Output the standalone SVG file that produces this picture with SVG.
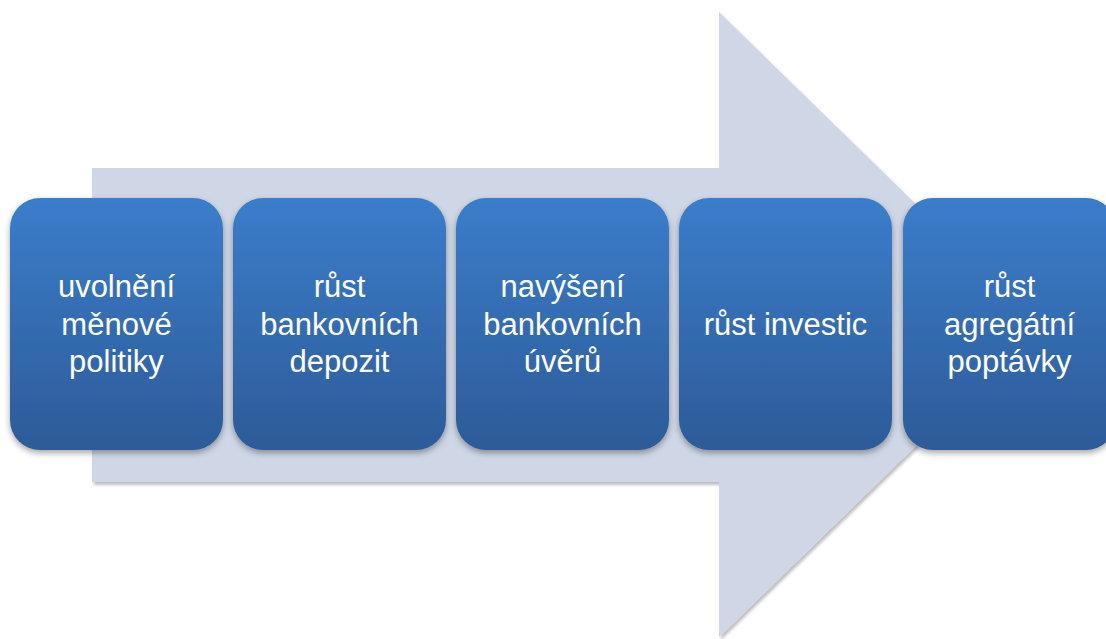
<svg xmlns="http://www.w3.org/2000/svg" width="1106" height="639" viewBox="0 0 1106 639">
  <defs>
    <linearGradient id="boxFill" x1="0" y1="0" x2="0" y2="1">
      <stop offset="0" stop-color="#3B7DCB"/>
      <stop offset="1" stop-color="#2D5B98"/>
    </linearGradient>
    <filter id="arrowShadow" x="-5%" y="-5%" width="115%" height="115%">
      <feDropShadow dx="2" dy="3" stdDeviation="1.5" flood-color="#000" flood-opacity="0.25"/>
    </filter>
    <filter id="boxShadow" x="-10%" y="-10%" width="120%" height="125%">
      <feDropShadow dx="0" dy="3" stdDeviation="3" flood-color="#000" flood-opacity="0.35"/>
    </filter>
  </defs>
  <style>
    .box { fill: url(#boxFill); filter: url(#boxShadow); }
    .label { font-family: "Liberation Sans", Arial, sans-serif; font-size: 31px; fill: #FFFFFF; text-anchor: middle; }
  </style>
  <rect width="1106" height="639" fill="#FFFFFF"/>

  <!-- background block arrow -->
  <g id="connectors">
    <path d="M92 168 H719 V12 L1040 325 L719 637 V482 H92 Z" fill="#CFD7E6" filter="url(#arrowShadow)"/>
  </g>

  <g id="node1">
    <rect class="box" x="10" y="198" width="213" height="252" rx="30" ry="30"/>
    <text class="label" x="116.5" y="297">uvolnění</text>
    <text class="label" x="116.5" y="335">měnové</text>
    <text class="label" x="116.5" y="372">politiky</text>
  </g>

  <g id="node2">
    <rect class="box" x="233" y="198" width="213" height="252" rx="30" ry="30"/>
    <text class="label" x="339.5" y="297">růst</text>
    <text class="label" x="339.5" y="335">bankovních</text>
    <text class="label" x="339.5" y="372">depozit</text>
  </g>

  <g id="node3">
    <rect class="box" x="456" y="198" width="213" height="252" rx="30" ry="30"/>
    <text class="label" x="562.5" y="297">navýšení</text>
    <text class="label" x="562.5" y="335">bankovních</text>
    <text class="label" x="562.5" y="372">úvěrů</text>
  </g>

  <g id="node4">
    <rect class="box" x="679" y="198" width="213" height="252" rx="30" ry="30"/>
    <text class="label" x="785.5" y="335">růst investic</text>
  </g>

  <g id="node5">
    <rect class="box" x="903" y="198" width="213" height="252" rx="30" ry="30"/>
    <text class="label" x="1009.5" y="297">růst</text>
    <text class="label" x="1009.5" y="335">agregátní</text>
    <text class="label" x="1009.5" y="372">poptávky</text>
  </g>
</svg>
